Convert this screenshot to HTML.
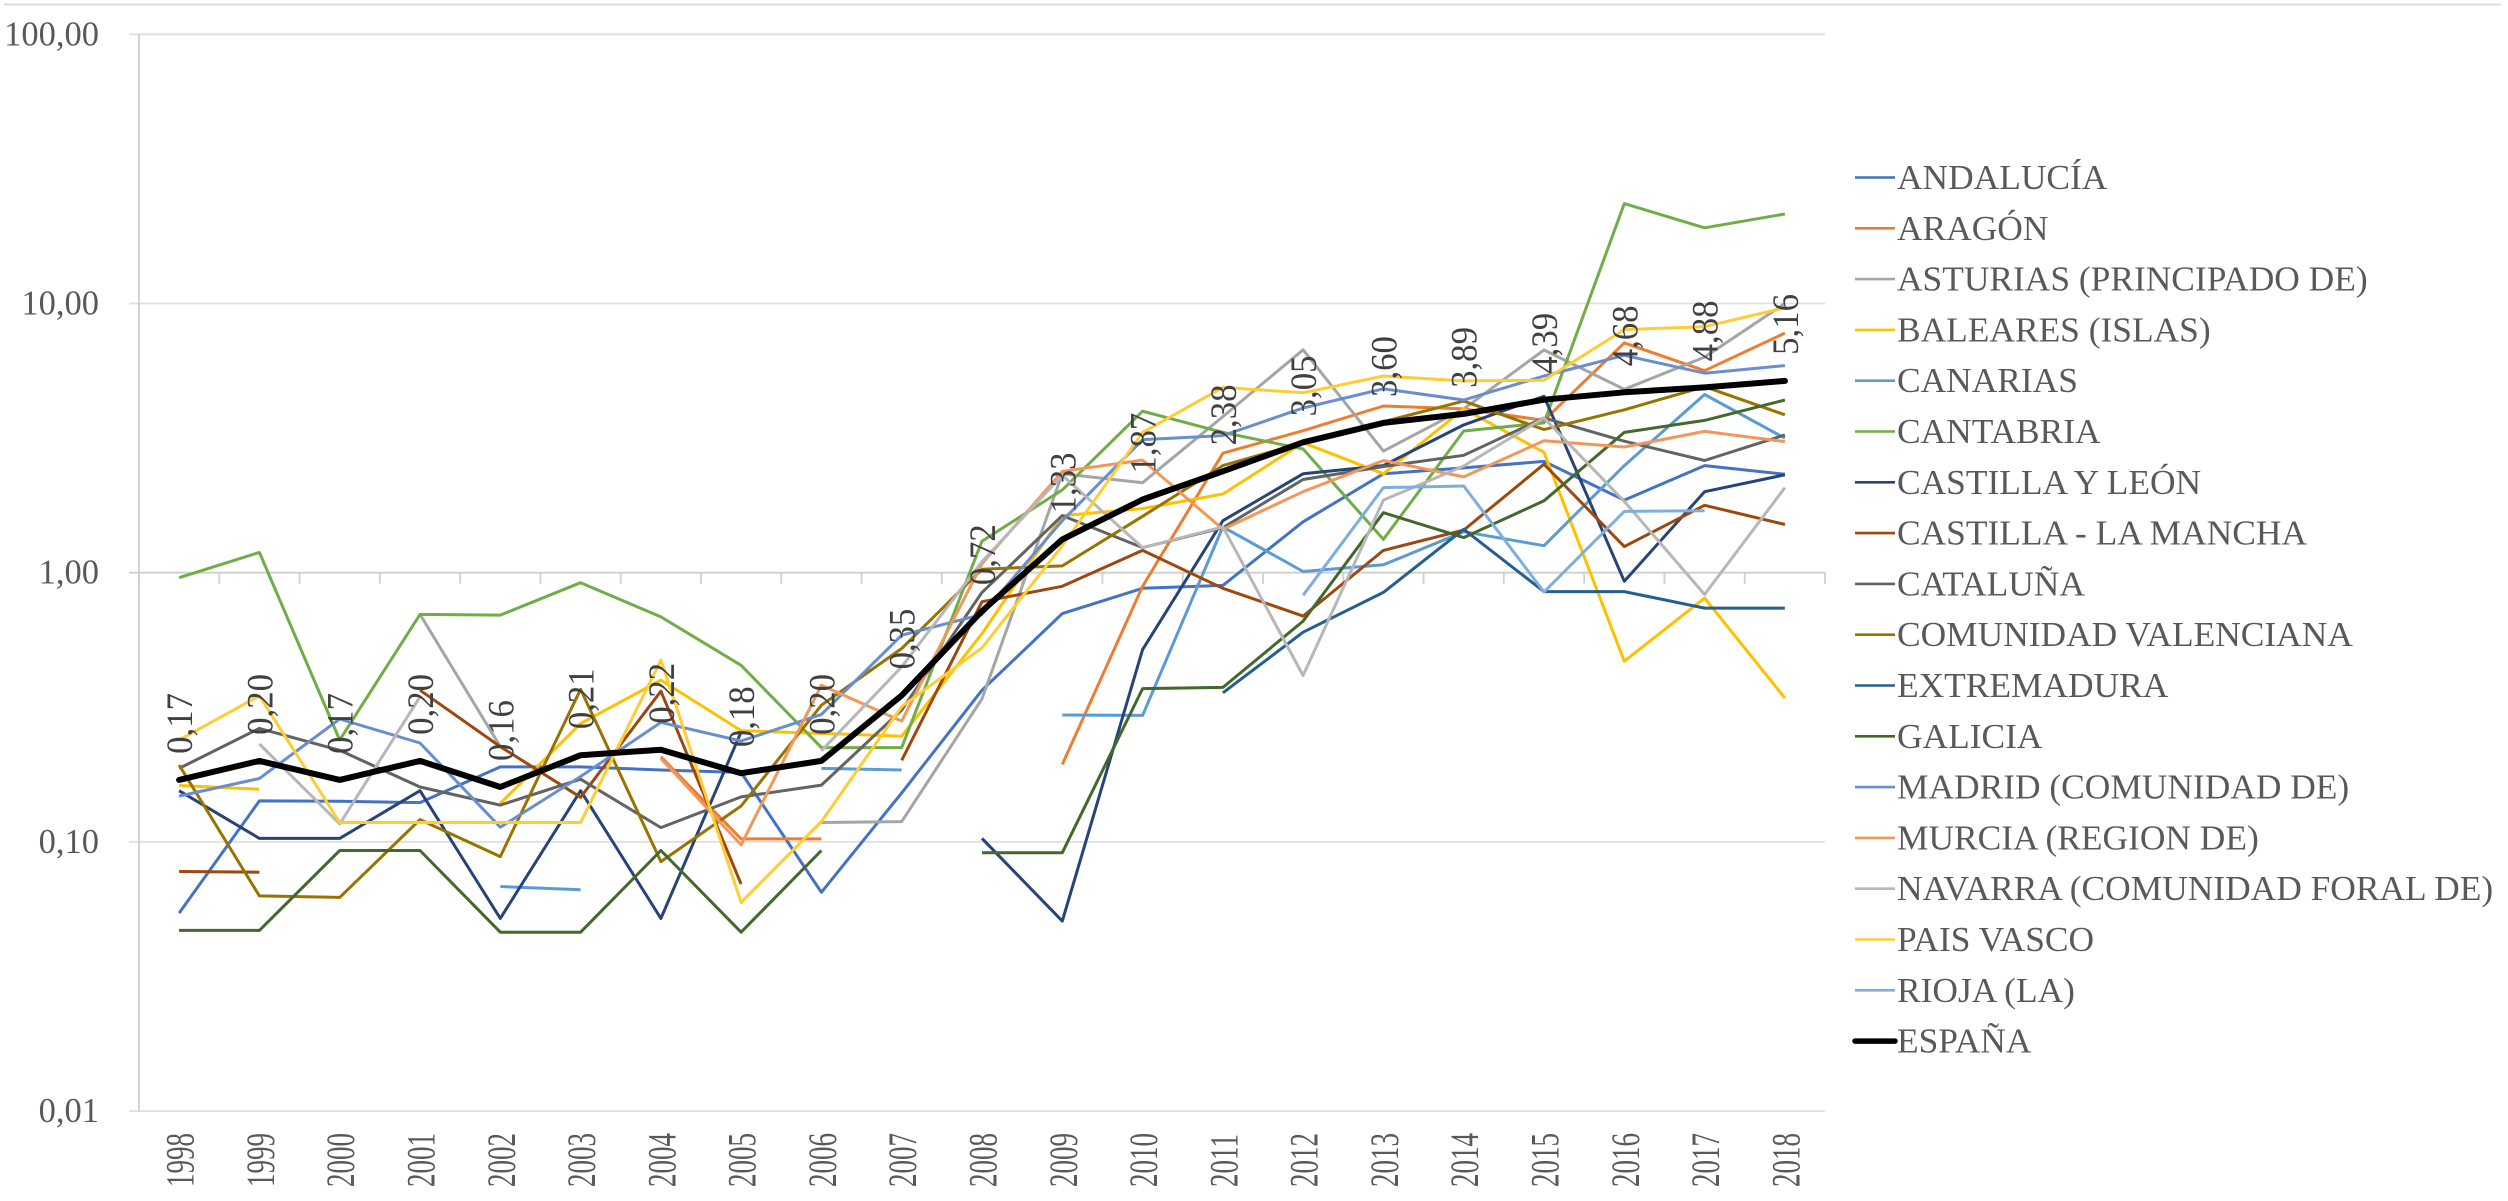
<!DOCTYPE html>
<html lang="es">
<head>
<meta charset="utf-8">
<title>Evolución por comunidad autónoma 1998-2018</title>
<style>
html,body{margin:0;padding:0;background:#fff;width:2508px;height:1201px;overflow:hidden}
svg{display:block;font-family:"Liberation Serif",serif}
</style>
</head>
<body>
<svg id="chart" xmlns="http://www.w3.org/2000/svg" width="2508" height="1201" viewBox="0 0 2508 1201">
<rect x="0" y="0" width="2508" height="1201" fill="#ffffff"/>
<line x1="4" y1="4.5" x2="2501" y2="4.5" stroke="#d9d9d9" stroke-width="1.8"/>
<g id="grid"></g>
<g id="axes"></g>
<g id="series"></g>
<g id="labels"></g>
<g id="legend"></g>
</svg>
<script>
const years = ["1998","1999","2000","2001","2002","2003","2004","2005","2006","2007","2008","2009","2010","2011","2012","2013","2014","2015","2016","2017","2018"];
const yTickValues = [100, 10, 1, 0.1, 0.01];
const yTickLabels = ["100,00", "10,00", "1,00", "0,10", "0,01"];

const seriesNames = ["ANDALUCÍA","ARAGÓN","ASTURIAS (PRINCIPADO DE)","BALEARES (ISLAS)","CANARIAS","CANTABRIA","CASTILLA Y LEÓN","CASTILLA - LA MANCHA","CATALUÑA","COMUNIDAD VALENCIANA","EXTREMADURA","GALICIA","MADRID (COMUNIDAD DE)","MURCIA (REGION DE)","NAVARRA (COMUNIDAD FORAL DE)","PAIS VASCO","RIOJA (LA)","ESPAÑA"];

const andalucia = [0.0544,0.142,0.1415,0.14,0.19,0.19,0.185,0.181,0.065,0.152,0.366,0.705,0.875,0.897,1.545,2.33,2.45,2.59,1.86,2.5,2.32];
const aragon = [null,null,null,null,null,null,0.207,0.1026,0.1026,null,null,0.194,0.89,2.78,3.37,4.16,4.06,3.68,7.14,5.63,7.76];
const asturias = [null,null,null,0.7,0.226,null,null,null,0.118,0.119,0.34,2.33,2.16,3.8,6.73,2.83,4.06,6.72,4.8,6.32,10.0];
const baleares = [0.162,0.157,null,null,0.139,0.275,0.399,0.259,0.253,0.247,0.594,1.63,1.73,1.96,3.04,2.33,4.06,2.8,0.469,0.805,0.342];
const canarias = [null,null,null,null,0.0683,0.0664,null,null,0.1875,0.185,null,0.296,0.295,1.48,1.01,1.07,1.42,1.26,2.5,4.59,3.16];
const cantabria = [0.958,1.19,0.239,0.7,0.696,0.918,0.685,0.453,0.224,0.224,1.31,2.03,3.98,3.32,2.88,1.33,3.36,3.6,23.5,19.1,21.5];
const castillaLeon = [0.155,0.103,0.103,0.155,0.052,0.155,0.052,0.256,null,null,0.103,0.0508,0.518,1.56,2.33,2.5,3.54,4.52,0.93,2.0,2.31];
const castillaMancha = [0.0776,0.0772,null,0.366,0.226,0.1465,0.363,0.0697,null,0.201,0.78,0.89,1.21,0.875,0.69,1.21,1.44,2.53,1.25,1.78,1.51];
const cataluna = [0.1875,0.264,0.219,0.16,0.137,0.171,0.113,0.147,0.1626,0.309,0.845,1.63,1.24,1.47,2.22,2.48,2.73,3.76,3.08,2.61,3.25];
const valenciana = [0.193,0.063,0.0622,0.121,0.0882,0.369,0.0845,0.136,0.322,0.523,1.03,1.06,1.62,2.5,3.04,3.64,4.34,3.4,4.03,4.91,3.86];
const extremadura = [null,null,null,null,null,null,null,null,null,null,null,null,null,0.358,0.601,0.845,1.45,0.851,0.851,0.739,0.739];
const galicia = [0.0469,0.0469,0.0929,0.0929,0.0462,0.0462,0.0929,0.0462,0.0929,null,0.0912,0.0912,0.371,0.375,0.661,1.67,1.35,1.85,3.32,3.68,4.38];
const madrid = [0.148,0.172,0.286,0.233,0.1134,0.175,0.278,0.237,0.2975,0.586,0.7,1.56,3.12,3.23,4.09,4.82,4.38,5.38,6.42,5.51,5.88];
const murcia = [null,null,null,null,null,null,0.204,0.0975,0.382,0.281,1.08,2.38,2.62,1.45,2.0,2.61,2.27,3.09,2.93,3.35,3.07];
const navarra = [null,0.231,0.1166,0.346,null,null,null,null,0.218,0.447,1.1,2.3,1.24,1.48,0.415,1.86,2.49,3.76,1.84,0.83,2.07];
const paisVasco = [0.239,0.349,0.118,0.118,0.118,0.118,0.473,0.0596,0.119,0.318,0.526,1.26,3.32,4.88,4.66,5.38,5.16,5.19,8.0,8.2,9.64];
const rioja = [null,null,null,null,null,null,null,null,null,null,null,null,null,null,0.824,2.07,2.1,0.848,1.69,1.7,null];
const espana = [0.17,0.20,0.17,0.20,0.16,0.21,0.22,0.18,0.20,0.35,0.72,1.33,1.87,2.38,3.05,3.60,3.89,4.39,4.68,4.88,5.16];
const espanaLabels = ["0,17","0,20","0,17","0,20","0,16","0,21","0,22","0,18","0,20","0,35","0,72","1,33","1,87","2,38","3,05","3,60","3,89","4,39","4,68","4,88","5,16"];

const allSeries = [andalucia,aragon,asturias,baleares,canarias,cantabria,castillaLeon,castillaMancha,cataluna,valenciana,extremadura,galicia,madrid,murcia,navarra,paisVasco,rioja,espana];
const palette = ["#4472C4","#ED7D31","#A5A5A5","#FFC000","#5B9BD5","#70AD47","#264478","#9E480E","#636363","#997300","#255E91","#43682B","#698ED0","#F1975A","#B7B7B7","#FFCD33","#7CAFDD","#000000"];

const SVGNS = "http://www.w3.org/2000/svg";
const plotLeft = 139, plotRight = 1825, yOne = 572.7, decadePx = 269.2;
const bandW = (plotRight - plotLeft) / years.length;
function xScale(i){ return plotLeft + bandW * (i + 0.5); }
function yScale(v){ return yOne - decadePx * Math.log10(v); }
function slug(s){ return s.toLowerCase().normalize("NFD").replace(/[\u0300-\u036f]/g,"").replace(/[^a-z0-9]+/g,"-").replace(/^-|-$/g,""); }
function make(tag, parent){ const el = document.createElementNS(SVGNS, tag); parent.appendChild(el); return el; }
function setAll(el, o){ for (const k in o) el.setAttribute(k, o[k]); }

const gGrid = document.getElementById("grid");
const gAxes = document.getElementById("axes");
const gSeries = document.getElementById("series");
const gLabels = document.getElementById("labels");
const gLegend = document.getElementById("legend");

yTickValues.forEach(function(v, i){
  const y = yScale(v);
  const gl = make("line", gGrid);
  
  
  setAll(gl, {x1: plotLeft - 10, x2: plotRight, y1: y, y2: y, stroke: v === 1 ? "#cfcfcf" : "#dfdfdf", "stroke-width": 1.8});
  const t = make("text", gAxes);
  
  
  setAll(t, {x: 99, y: y + 11, "text-anchor": "end", "font-size": 34.5, fill: "#595959"});
  t.textContent = yTickLabels[i];
});

const yAxis = make("line", gAxes);


setAll(yAxis, {x1: plotLeft, x2: plotLeft, y1: yScale(100), y2: yScale(0.01), stroke: "#cfcfcf", "stroke-width": 1.8});

for (let k = 0; k <= years.length; k++) {
  const tick = make("line", gAxes);
  
  
  const tx = plotLeft + bandW * k;
  setAll(tick, {x1: tx, x2: tx, y1: yOne, y2: yOne + 11, stroke: "#cfcfcf", "stroke-width": 1.8});
}

years.forEach(function(label, i){
  const t = make("text", gAxes);
  
  
  setAll(t, {transform: "translate(" + (xScale(i) + 14.5) + ",1187) rotate(-90) scale(0.675,1)", "font-size": 40, fill: "#595959"});
  t.textContent = label;
});

allSeries.forEach(function(values, s){
  let d = "";
  let pen = false;
  values.forEach(function(v, i){
    if (v === null) { pen = false; return; }
    d += (pen ? "L" : "M") + xScale(i).toFixed(1) + " " + yScale(v).toFixed(1);
    pen = true;
  });
  const p = make("path", gSeries);
  
  
  const isTotal = s === allSeries.length - 1;
  setAll(p, {d: d, fill: "none", stroke: palette[s], "stroke-width": isTotal ? 6 : 3, "stroke-linejoin": "round", "stroke-linecap": isTotal ? "round" : "butt"});
});

espana.forEach(function(v, i){
  const t = make("text", gLabels);
  
  
  setAll(t, {transform: "translate(" + (xScale(i) + 13) + "," + (yScale(v) - 26) + ") rotate(-90) scale(0.94,1)", "font-size": 37, fill: "#404040"});
  t.textContent = espanaLabels[i];
});

seriesNames.forEach(function(name, s){
  const rowY = 177.5 + 50.8 * s;
  const isTotal = s === seriesNames.length - 1;
  const g = make("g", gLegend);
  
  
  const l = make("line", g);
  
  
  setAll(l, {x1: 1855, x2: 1895, y1: rowY, y2: rowY, stroke: palette[s], "stroke-width": isTotal ? 5.5 : 2.6, "stroke-linecap": isTotal ? "round" : "butt"});
  const t = make("text", g);
  
  
  setAll(t, {x: 1897, y: rowY + 11.5, "font-size": 35.4, fill: "#595959"});
  t.textContent = name;
});
</script>
</body>
</html>
